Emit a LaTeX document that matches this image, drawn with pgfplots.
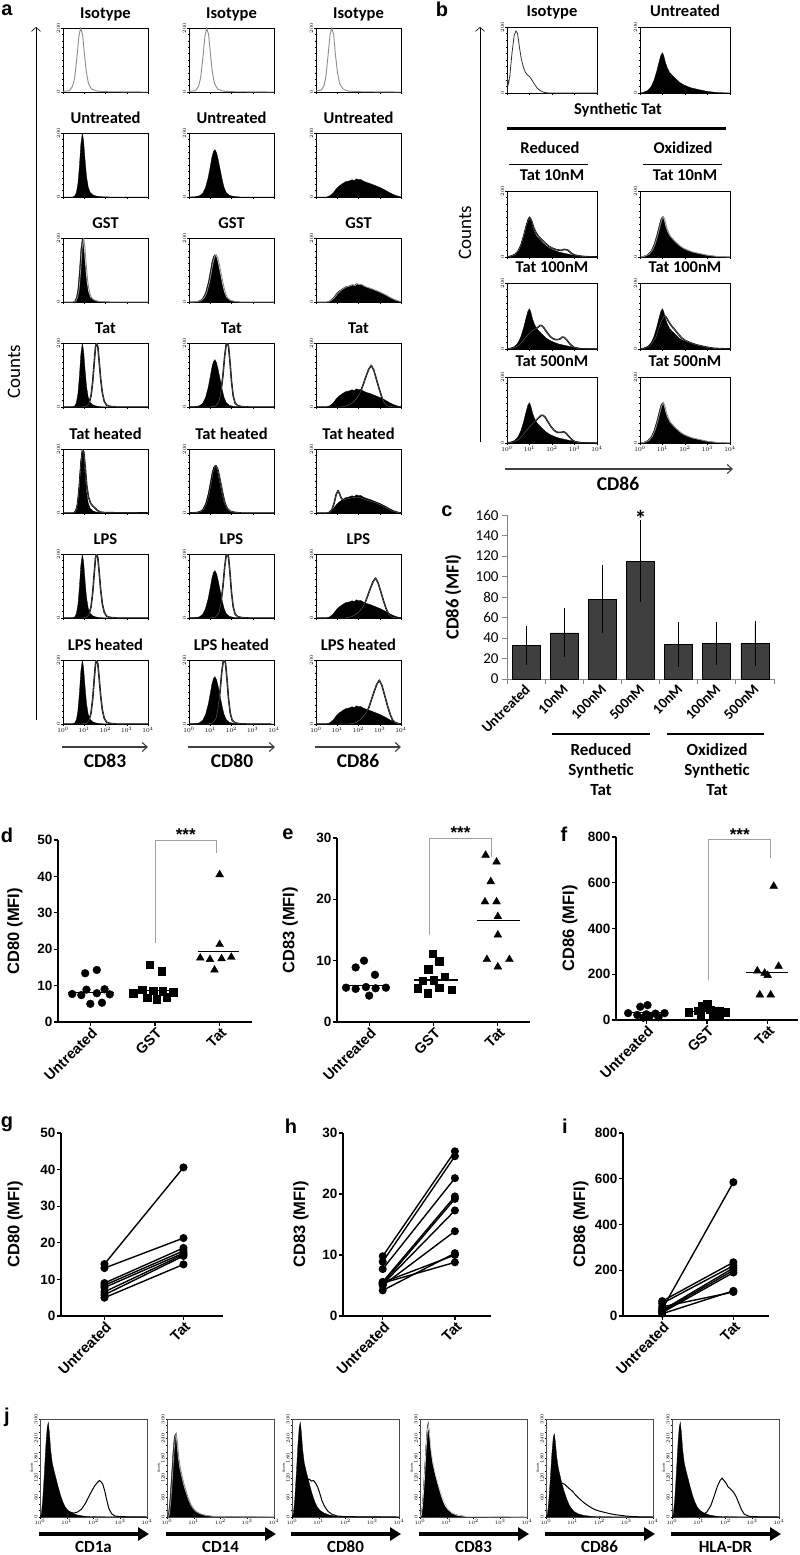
\documentclass[border=0pt]{standalone}
\usepackage{pgfplots}
\pgfplotsset{compat=1.18}
\usepackage{pgfplotstable}
\usepackage{fontspec}
\setmainfont{Carlito}
\newfontfamily\arial{Liberation Sans}
\usetikzlibrary{arrows.meta}
\newcommand\fs[1]{\fontsize{#1}{#1}\selectfont}
\definecolor{gry}{HTML}{8C8C8C}
\definecolor{barc}{HTML}{3F3F3F}
\definecolor{axg}{HTML}{868686}
\definecolor{brk}{HTML}{A0A0A0}

% ---------- panel a histograms (x in decades, counts 0-200)
\pgfplotstableread{
x y
0 2
0.3 4
0.45 18
0.55 45
0.65 105
0.75 175
0.83 200
0.92 180
1.0 125
1.1 62
1.2 26
1.35 9
1.6 3
2.0 1
4 0
}\aIsoA
\pgfplotstableread{
x y
0 3
0.25 6
0.38 20
0.47 50
0.56 110
0.66 178
0.74 200
0.83 180
0.91 120
1.01 60
1.12 25
1.28 9
1.5 3
2.0 1
4 0
}\aIsoC
\pgfplotstableread{
x y
0 0
0.45 0
0.55 3
0.63 14
0.7 40
0.77 95
0.84 165
0.91 200
0.97 175
1.04 115
1.11 62
1.19 30
1.28 14
1.4 7
1.55 3
1.8 1
2.2 0
4 0
}\aFillA
\pgfplotstableread{
x y
0 0
0.9 0
1.1 2
1.22 10
1.32 35
1.4 80
1.47 140
1.53 188
1.58 200
1.64 188
1.7 145
1.77 90
1.85 45
1.94 18
2.05 6
2.2 2
2.5 0
4 0
}\aTatA
\pgfplotstableread{
x y
0 0
0.5 0
0.6 5
0.68 25
0.76 75
0.84 150
0.92 200
0.98 190
1.05 140
1.12 85
1.2 50
1.3 30
1.4 22
1.5 16
1.62 8
1.75 3
2.0 1
4 0
}\aHeatA
\pgfplotstableread{
x y
0 0
0.3 1
0.5 4
0.65 12
0.78 30
0.9 60
1.0 95
1.08 125
1.15 142
1.22 148
1.3 138
1.38 115
1.47 85
1.56 55
1.65 30
1.75 14
1.9 5
2.1 2
2.4 0
4 0
}\aFillB
\pgfplotstableread{
x y
0 0
1.0 0
1.25 3
1.4 15
1.5 45
1.6 100
1.68 160
1.75 195
1.8 200
1.86 190
1.93 140
2.0 80
2.08 35
2.17 12
2.3 4
2.5 1
2.8 0
4 0
}\aTatB
\pgfplotstableread{
x y
0 0
0.5 0
0.65 4
0.8 12
0.95 25
1.1 35
1.25 42
1.4 48
1.55 50
1.7 54
1.8 51
1.9 57
2.0 54
2.1 55
2.25 49
2.4 45
2.55 42
2.7 38
2.85 34
3.0 30
3.15 25
3.3 20
3.45 14
3.6 9
3.75 5
3.9 2
4 0
}\aFillC
\pgfplotstableread{
x y
0 0
1.2 0
1.5 5
1.75 15
1.95 30
2.1 48
2.22 70
2.35 95
2.48 118
2.6 130
2.72 115
2.85 85
2.98 55
3.1 30
3.22 12
3.35 4
3.5 1
3.7 0
4 0
}\aTatC
\pgfplotstableread{
x y
0 0
1.4 0
1.7 5
1.95 15
2.15 29
2.3 46
2.42 67
2.55 91
2.68 113
2.8 125
2.92 110
3.05 82
3.18 53
3.3 29
3.42 12
3.55 4
3.7 1
3.85 0
4 0
}\aLpsC
\pgfplotstableread{
x y
0 0
1.6 0
1.9 5
2.13 16
2.33 32
2.48 50
2.6 74
2.73 100
2.86 124
2.98 137
3.1 121
3.23 90
3.36 58
3.48 32
3.6 13
3.73 4
3.88 1
4 0
}\aLpshC
\pgfplotstableread{
x y
0 0
0.6 0
0.75 10
0.85 30
0.95 58
1.04 70
1.12 58
1.2 45
1.3 40
1.45 44
1.6 46
1.75 48
1.9 50
2.05 48
2.2 45
2.4 40
2.6 36
2.8 32
3.0 27
3.2 20
3.4 13
3.6 6
3.8 2
4 0
}\aHeatC
% ---------- panel b histograms
\pgfplotstableread{
x y
0 0
0.02 42
0.07 28
0.13 55
0.22 120
0.32 175
0.4 188
0.47 180
0.55 140
0.63 105
0.72 80
0.82 62
0.92 54
1.0 50
1.1 40
1.22 27
1.35 14
1.5 6
1.65 2
1.85 0
4 0
}\bIso
\pgfplotstableread{
x y
0 0
0.15 2
0.35 8
0.5 20
0.62 38
0.74 65
0.85 95
0.93 115
1.0 122
1.06 112
1.13 92
1.22 75
1.32 62
1.45 52
1.6 42
1.75 33
1.9 26
2.1 20
2.3 15
2.5 12
2.7 9
2.9 6
3.1 4
3.35 2
3.6 1
4 0
}\bFill
\pgfplotstableread{
x y
0 0
0.15 2
0.35 7
0.5 18
0.62 35
0.74 62
0.85 92
0.95 112
1.03 118
1.1 108
1.18 90
1.28 75
1.4 62
1.55 52
1.7 42
1.85 33
2.0 27
2.2 22
2.4 20
2.55 23
2.7 21
2.85 12
3.0 6
3.2 3
3.5 1
4 0
}\bRten
\pgfplotstableread{
x y
0 0
0.3 3
0.55 12
0.75 28
0.95 45
1.1 55
1.25 60
1.38 66
1.48 72
1.56 70
1.65 63
1.78 50
1.92 38
2.05 31
2.2 28
2.35 30
2.45 36
2.55 35
2.65 28
2.8 15
2.95 6
3.1 2
3.3 0
4 0
}\bRhun
\pgfplotstableread{
x y
0 0
0.3 3
0.55 12
0.75 28
0.95 45
1.1 56
1.25 66
1.4 76
1.52 84
1.6 84
1.7 78
1.82 64
1.95 50
2.1 38
2.25 32
2.4 32
2.52 34
2.62 30
2.75 20
2.9 9
3.05 3
3.25 1
3.4 0
4 0
}\bRfive
\pgfplotstableread{
x y
0 0
0.2 2
0.4 8
0.55 18
0.7 35
0.82 60
0.95 85
1.05 98
1.12 100
1.2 92
1.3 80
1.42 68
1.55 58
1.7 45
1.85 34
2.0 26
2.2 20
2.4 15
2.6 11
2.8 8
3.0 5
3.3 2
3.6 1
4 0
}\bOhun
% ---------- panel j histograms (counts 0-300)
\pgfplotstableread{
x y
0 0
0.05 8
0.1 50
0.16 130
0.22 220
0.27 275
0.31 290
0.35 260
0.4 205
0.46 165
0.53 140
0.6 118
0.68 92
0.77 66
0.86 45
0.95 30
1.05 20
1.2 12
1.4 6
1.7 2
2.1 1
4 0
}\jFill
\pgfplotstableread{
x y
0 0
0.05 7
0.1 45
0.16 115
0.22 195
0.27 243
0.31 255
0.35 230
0.4 185
0.46 150
0.53 125
0.6 100
0.68 78
0.77 56
0.86 38
0.95 26
1.05 17
1.2 10
1.4 5
1.7 2
2.1 1
4 0
}\jFillB
\pgfplotstableread{
x y
0 0
0.3 2
0.6 6
0.8 10
0.95 14
1.1 16
1.25 12
1.4 15
1.55 24
1.7 42
1.82 62
1.95 82
2.05 96
2.15 106
2.22 112
2.28 108
2.35 100
2.42 80
2.5 50
2.58 25
2.68 10
2.8 3
3.0 1
4 0
}\jCDa
\pgfplotstableread{
x y
0 0
0.15 8
0.28 40
0.38 80
0.47 105
0.56 114
0.64 116
0.72 110
0.8 112
0.88 104
0.96 92
1.04 72
1.12 50
1.22 32
1.35 17
1.5 8
1.7 3
2.0 1
4 0
}\jCDeighty
\pgfplotstableread{
x y
0 0
0.05 6
0.1 40
0.16 110
0.22 200
0.27 260
0.31 280
0.36 250
0.42 200
0.5 160
0.58 130
0.66 105
0.75 82
0.85 58
0.95 38
1.05 24
1.2 12
1.4 5
1.7 2
4 0
}\jCDeightythree
\pgfplotstableread{
x y
0 0
0.15 6
0.28 35
0.4 72
0.5 95
0.6 104
0.7 100
0.8 92
0.9 85
1.0 78
1.1 68
1.25 56
1.4 45
1.55 36
1.7 28
1.85 22
2.0 18
2.2 14
2.4 10
2.6 7
2.8 5
3.0 3
3.3 1
4 0
}\jCDeightysix
\pgfplotstableread{
x y
0 0
0.6 2
0.9 3
1.1 6
1.3 15
1.45 35
1.58 65
1.7 95
1.8 112
1.87 119
1.94 112
2.02 104
2.1 92
2.2 85
2.3 76
2.4 62
2.5 42
2.6 22
2.7 9
2.85 3
3.0 1
4 0
}\jHLA

\pgfplotsset{
 pos/.style 2 args={at={(#1pt,-#2pt)},anchor=north west},
 hist/.style={scale only axis, xmin=0, xmax=4, ymin=0, ymax=200,
   xtick={0,1,2,3,4}, xticklabels={}, ytick={0,200}, minor y tick num=9,
   tick align=outside, xtick pos=bottom, ytick pos=left,
   major tick length=2pt, minor tick length=1.2pt,
   tick style={line width=0.35pt,black},
   yticklabel style={rotate=90, anchor=south, font=\fs{5}, inner sep=0.6pt},
   axis line style={line width=0.7pt},
   title style={font=\bfseries\fs{16.5}, at={(0.5,1)}, anchor=base, yshift=3.5pt, inner sep=0pt}},
 bot/.style={xticklabels={$10^0$,$10^1$,$10^2$,$10^3$,$10^4$}, xticklabel style={font=\fs{6.5}, inner sep=1pt}},
 fl/.style={fill=black, draw=black, line width=0.3pt},
 ov/.style={draw=black, line width=1.5pt, line join=round, postaction={draw=black!55, line width=0.35pt}},
 gl/.style={draw=gry, line width=0.9pt},
 jh/.style={scale only axis, width=107pt, height=98pt, xmin=0, xmax=4, ymin=0, ymax=300,
   xtick={0,1,2,3,4}, xticklabels={$10^0$,$10^1$,$10^2$,$10^3$,$10^4$},
   ytick={0,60,...,300}, minor y tick num=2, tick align=outside, xtick pos=bottom, ytick pos=left,
   major tick length=1.5pt, minor tick length=1pt, tick style={line width=0.3pt,black},
   ticklabel style={font=\fs{3.5}, inner sep=0.8pt}, yticklabel style={rotate=90, anchor=south},
   axis line style={line width=0.5pt, draw=black!70},
   ylabel={Counts}, ylabel style={font=\fs{3.5}, yshift=-3pt}},
 prism/.style={scale only axis, axis lines*=left, axis line style={-, line width=1.5pt},
   tick align=outside, major tick length=4pt, tick style={line width=1.3pt, black},
   yticklabel style={font=\arial\bfseries\fs{13.5}, inner sep=1.5pt},
   /pgf/number format/assume math mode=true,
   xticklabel style={rotate=45, anchor=east, font=\arial\bfseries\fs{14.5}, inner sep=1pt, yshift=-6pt, xshift=1pt},
   clip=false},
 ylab/.style={every axis y label/.style={at={(axis description cs:#1,0.5)}, rotate=90, anchor=center, font=\arial\bfseries\fs{16.5}}},
 dot/.style={only marks, mark=*, mark size=3.9pt, black, mark options={fill=black}},
 sq/.style={only marks, mark=square*, mark size=3.7pt, black, mark options={fill=black}},
 tri/.style={only marks, mark=triangle*, mark size=4.5pt, black, mark options={fill=black}},
 med/.style={black, line width=1.2pt},
 pair/.style={black, line width=1.4pt, mark=*, mark size=3.3pt, mark options={fill=black}},
}
\newcommand\HA[5]{\begin{axis}[hist, pos={#1}{#2}, width=85pt, height=64pt, title={#3}, #4]#5\end{axis}}
\newcommand\HB[5]{\begin{axis}[hist, pos={#1}{#2}, width=90pt, height=66pt, title={#3}, title style={yshift=0.8pt}, #4]#5\end{axis}}
\newcommand\HJ[2]{\begin{axis}[jh, pos={#1}{1419}]#2\end{axis}}

\begin{document}
\begin{tikzpicture}
% ================= panel a
\node[font=\arial\bfseries\fs{20}] at (7pt,-10pt) {a};
\draw[-{Straight Barb[length=4pt,width=9pt]}, line width=0.6pt] (36pt,-720pt) -- (36pt,-27pt);
\node[rotate=90, font=\fs{19}] at (14pt,-372pt) {Counts};
% column 1 (CD83)
\HA{63}{28}{Isotype}{}{\addplot[gl] table{\aIsoA};}
\HA{63}{133}{Untreated}{}{\addplot[fl] table{\aFillA};}
\HA{63}{238}{GST}{}{\addplot[fl] table{\aFillA}; \addplot[gl,xshift=1.2pt] table{\aFillA};}
\HA{63}{343}{Tat}{}{\addplot[fl] table{\aFillA}; \addplot[ov] table{\aTatA};}
\HA{63}{449}{Tat heated}{}{\addplot[fl] table{\aFillA}; \addplot[ov] table{\aHeatA};}
\HA{63}{554}{LPS}{}{\addplot[fl] table{\aFillA}; \addplot[ov] table{\aTatA};}
\HA{63}{660}{LPS heated}{bot}{\addplot[fl] table{\aFillA}; \addplot[ov] table{\aTatA};}
% column 2 (CD80)
\HA{189}{28}{Isotype}{}{\addplot[gl] table{\aIsoA};}
\HA{189}{133}{Untreated}{}{\addplot[fl] table{\aFillB};}
\HA{189}{238}{GST}{}{\addplot[fl] table{\aFillB}; \addplot[gl,xshift=1.2pt] table{\aFillB};}
\HA{189}{343}{Tat}{}{\addplot[fl] table{\aFillB}; \addplot[ov] table{\aTatB};}
\HA{189}{449}{Tat heated}{}{\addplot[fl] table{\aFillB}; \addplot[ov,xshift=1pt] table{\aFillB};}
\HA{189}{554}{LPS}{}{\addplot[fl] table{\aFillB}; \addplot[ov] table{\aTatB};}
\HA{189}{660}{LPS heated}{bot}{\addplot[fl] table{\aFillB}; \addplot[ov,xshift=-3pt] table{\aTatB};}
% column 3 (CD86)
\HA{316}{28}{Isotype}{}{\addplot[gl] table{\aIsoC};}
\HA{316}{133}{Untreated}{}{\addplot[fl] table{\aFillC};}
\HA{316}{238}{GST}{}{\addplot[fl] table{\aFillC}; \addplot[gl,xshift=1pt] table{\aFillC};}
\HA{316}{343}{Tat}{}{\addplot[fl] table{\aFillC}; \addplot[ov] table{\aTatC};}
\HA{316}{449}{Tat heated}{}{\addplot[fl] table{\aFillC}; \addplot[ov] table{\aHeatC};}
\HA{316}{554}{LPS}{}{\addplot[fl] table{\aFillC}; \addplot[ov] table{\aLpsC};}
\HA{316}{660}{LPS heated}{bot}{\addplot[fl] table{\aFillC}; \addplot[ov] table{\aLpshC};}
\foreach \xa/\xb/\xc/\lab in {62/148/105/CD83,188/275/232/CD80,315/401/358/CD86}{
  \draw[-{Straight Barb[length=5pt,width=9pt]}, line width=1.1pt, black!75] (\xa pt,-747pt) -- (\xb pt,-747pt);
  \node[font=\bfseries\fs{19.5}] at (\xc pt,-761pt) {\lab};
}
% ================= panel b
\node[font=\arial\bfseries\fs{20}] at (442pt,-9pt) {b};
\draw[-{Straight Barb[length=4pt,width=9pt]}, line width=0.6pt] (480pt,-442pt) -- (480pt,-27pt);
\node[rotate=90, font=\fs{19}] at (465pt,-233pt) {Counts};
\HB{507}{27}{Isotype}{}{\addplot[draw=black!80, line width=0.8pt] table{\bIso};}
\HB{640}{27}{Untreated}{}{\addplot[fl] table{\bFill};}
\HB{507}{191}{Tat 10nM}{}{\addplot[fl] table{\bFill}; \addplot[ov] table{\bRten};}
\HB{640}{191}{Tat 10nM}{}{\addplot[fl] table{\bFill}; \addplot[gl,xshift=1pt] table{\bFill};}
\HB{507}{283}{Tat 100nM}{}{\addplot[fl] table{\bFill}; \addplot[ov] table{\bRhun};}
\HB{640}{283}{Tat 100nM}{}{\addplot[fl] table{\bFill}; \addplot[ov] table{\bOhun};}
\HB{507}{377}{Tat 500nM}{bot}{\addplot[fl] table{\bFill}; \addplot[ov] table{\bRfive};}
\HB{640}{377}{Tat 500nM}{bot}{\addplot[fl] table{\bFill}; \addplot[gl,xshift=1pt] table{\bFill};}
\node[font=\bfseries\fs{16.5}] at (618pt,-110pt) {Synthetic Tat};
\draw[line width=3pt] (507pt,-128pt) -- (726pt,-128pt);
\node[font=\bfseries\fs{16.5}] at (550pt,-148pt) {Reduced};
\node[font=\bfseries\fs{16.5}] at (683pt,-148pt) {Oxidized};
\draw[line width=0.8pt] (509pt,-164pt) -- (588pt,-164pt);
\draw[line width=0.8pt] (643pt,-164pt) -- (722pt,-164pt);
\draw[-{Straight Barb[length=5pt,width=9pt]}, line width=1.1pt, black!75] (505pt,-469pt) -- (733pt,-469pt);
\node[font=\bfseries\fs{19.5}] at (618pt,-484pt) {CD86};
% ================= panel c
\node[font=\arial\bfseries\fs{20}] at (447pt,-511pt) {c};
\begin{axis}[scale only axis, pos={507}{515}, width=267pt, height=164pt, ybar, bar width=28pt,
  xmin=0.5, xmax=7.5, ymin=0, ymax=160, enlargelimits=false, ytick={0,20,...,160},
  axis lines*=left, axis line style={-, draw=axg, line width=0.8pt},
  tick align=outside, major tick length=5pt, ytick style={draw=axg, line width=0.8pt},
  xtick={1,...,7}, xticklabels={Untreated,10nM,100nM,500nM,10nM,100nM,500nM},
  xtick style={draw=none},
  extra x ticks={0.5,1.5,...,7.5}, extra x tick labels={},
  extra x tick style={xtick style={draw=axg, line width=0.8pt}},
  /pgf/number format/assume math mode=true,
  yticklabel style={font=\fs{15}},
  xticklabel style={rotate=45, anchor=east, font=\bfseries\fs{14.5}, inner sep=1pt, yshift=-3pt},
  ylabel={CD86 (MFI)},
  every axis y label/.style={at={(axis description cs:-0.202,0.5)}, rotate=90, anchor=center, font=\bfseries\fs{18.5}},
  clip=false]
\addplot[fill=barc, draw=black, line width=0.6pt,
  error bars/.cd, y dir=both, y explicit, error bar style={line width=0.8pt, black},
  error mark options={mark size=4pt, line width=0.8pt, black}]
  coordinates {(1,33) +- (0,15) (2,45) +- (0,20) (3,78) +- (0,29) (4,115) +- (0,36)
               (5,34) +- (0,18) (6,35) +- (0,17) (7,35) +- (0,18)};
\node[anchor=north, inner sep=0pt, font=\bfseries\fs{24}] at (axis cs:4,165) {*};
\end{axis}
\draw[line width=2pt] (552pt,-734pt) -- (650pt,-734pt);
\draw[line width=2pt] (667pt,-734pt) -- (764pt,-734pt);
\node[font=\bfseries\fontsize{17}{20}\selectfont, align=center] at (601pt,-770pt) {Reduced\\Synthetic\\Tat};
\node[font=\bfseries\fontsize{17}{20}\selectfont, align=center] at (717pt,-770pt) {Oxidized\\Synthetic\\Tat};
% ================= panel d
\node[font=\arial\bfseries\fs{20}] at (7pt,-835pt) {d};
\begin{axis}[prism, ylab=-0.222, pos={58}{840}, width=194pt, height=182pt,
  xmin=-0.5, xmax=2.5, ymin=0, ymax=50, ytick={0,10,...,50},
  xtick={0,1,2}, xticklabels={Untreated,GST,Tat}, ylabel={CD80 (MFI)}]
\addplot[dot] coordinates {(-0.08,13.4) (0.1,14.3) (-0.28,7.7) (-0.14,7.4) (-0.06,8.9) (0.1,7.9) (0.22,9.0) (0.3,7.6) (0.0,5.0) (0.18,5.3)};
\addplot[sq] coordinates {(0.92,15.8) (1.1,14.0) (0.66,7.9) (0.8,8.8) (0.97,8.6) (1.12,8.5) (1.28,8.2) (0.88,6.6) (1.03,6.3) (1.18,6.8)};
\addplot[tri] coordinates {(2,40.5) (2,21.3) (1.7,17.6) (1.85,17.2) (2.03,17.4) (2.18,17.8) (1.92,14.3)};
\addplot[med] coordinates {(-0.34,8.0) (0.36,8.0)};
\addplot[med] coordinates {(0.65,8.6) (1.35,8.6)};
\addplot[med] coordinates {(1.66,19.3) (2.3,19.3)};
\draw[brk, line width=0.9pt] (axis cs:1,21.7) -- (axis cs:1,50) -- (axis cs:1.95,50) -- (axis cs:1.95,46.4);
\node[anchor=north, inner sep=0pt, yshift=11pt, font=\arial\bfseries\fs{17}] at (axis cs:1.475,50) {***};
\end{axis}
% ================= panel e
\node[font=\arial\bfseries\fs{20}] at (288pt,-834pt) {e};
\begin{axis}[prism, ylab=-0.243, pos={337}{838}, width=193pt, height=184pt,
  xmin=-0.5, xmax=2.5, ymin=0, ymax=30, ytick={0,10,20,30},
  xtick={0,1,2}, xticklabels={Untreated,GST,Tat}, ylabel={CD83 (MFI)}]
\addplot[dot] coordinates {(-0.08,10.0) (-0.21,8.9) (0.09,7.7) (-0.36,5.6) (-0.21,5.4) (-0.05,5.7) (0.1,5.5) (0.26,5.6) (0,4.3)};
\addplot[sq] coordinates {(0.99,11.1) (1.09,9.9) (0.92,8.6) (1.17,7.4) (0.83,6.7) (1.0,6.8) (0.75,5.5) (1.09,5.6) (1.28,5.3) (0.91,4.7)};
\addplot[tri] coordinates {(1.81,27.2) (1.98,26.1) (1.89,22.9) (1.8,19.6) (1.98,19.6) (2.0,17.2) (2.0,14.2) (1.83,10.2) (2.18,10.2) (2.0,9.0)};
\addplot[med] coordinates {(-0.36,6.0) (0.31,6.0)};
\addplot[med] coordinates {(0.7,6.85) (1.38,6.85)};
\addplot[med] coordinates {(1.67,16.6) (2.34,16.6)};
\draw[brk, line width=0.9pt] (axis cs:0.94,14.2) -- (axis cs:0.94,30) -- (axis cs:1.9,30) -- (axis cs:1.9,26.9);
\node[anchor=north, inner sep=0pt, yshift=11pt, font=\arial\bfseries\fs{17}] at (axis cs:1.42,30) {***};
\end{axis}
% ================= panel f
\node[font=\arial\bfseries\fs{20}] at (564pt,-834pt) {f};
\begin{axis}[prism, ylab=-0.253, pos={616}{837}, width=182pt, height=183pt,
  xmin=-0.5, xmax=2.5, ymin=0, ymax=800, ytick={0,200,...,800},
  xtick={0,1,2}, xticklabels={Untreated,GST,Tat}, ylabel={CD86 (MFI)}]
\addplot[dot] coordinates {(-0.1,58) (0.02,65) (-0.3,30) (-0.15,22) (0.0,25) (0.15,28) (0.3,30) (0.05,15) (0.2,12) (-0.05,10)};
\addplot[sq] coordinates {(0.92,60) (1.0,70) (0.7,35) (0.85,40) (1.05,45) (1.2,40) (1.3,35) (0.9,20) (1.1,15) (1.2,25)};
\addplot[tri] coordinates {(2.1,585) (1.83,215) (1.95,205) (2.0,195) (2.18,235) (1.87,110) (2.05,110)};
\addplot[med] coordinates {(-0.35,32) (0.33,32)};
\addplot[med] coordinates {(0.68,37) (1.35,37)};
\addplot[med] coordinates {(1.65,207) (2.33,207)};
\draw[brk, line width=0.9pt] (axis cs:1.03,174) -- (axis cs:1.03,790) -- (axis cs:2.05,790) -- (axis cs:2.05,709);
\node[anchor=north, inner sep=0pt, yshift=11pt, font=\arial\bfseries\fs{17}] at (axis cs:1.54,790) {***};
\end{axis}
% ================= panel g
\node[font=\arial\bfseries\fs{20}] at (7pt,-1124pt) {g};
\begin{axis}[prism, ylab=-0.284, pos={61}{1133}, width=162pt, height=183pt,
  xmin=-0.55, xmax=1.5, ymin=0, ymax=50, ytick={0,10,...,50},
  xtick={0,1}, xticklabels={Untreated,Tat}, ylabel={CD80 (MFI)}]
\addplot[pair] coordinates {(0,14.2) (1,40.6)};
\addplot[pair] coordinates {(0,13.1) (1,21.3)};
\addplot[pair] coordinates {(0,9.0) (1,18.6)};
\addplot[pair] coordinates {(0,8.4) (1,17.8)};
\addplot[pair] coordinates {(0,7.8) (1,17.2)};
\addplot[pair] coordinates {(0,6.6) (1,16.8)};
\addplot[pair] coordinates {(0,5.8) (1,16.4)};
\addplot[pair] coordinates {(0,5.0) (1,14.1)};
\end{axis}
% ================= panel h
\node[font=\arial\bfseries\fs{20}] at (291pt,-1126pt) {h};
\begin{axis}[prism, ylab=-0.284, pos={343}{1133}, width=148pt, height=183pt,
  xmin=-0.55, xmax=1.5, ymin=0, ymax=30, ytick={0,10,20,30},
  xtick={0,1}, xticklabels={Untreated,Tat}, ylabel={CD83 (MFI)}]
\addplot[pair] coordinates {(0,9.8) (1,27.0)};
\addplot[pair] coordinates {(0,8.9) (1,26.2)};
\addplot[pair] coordinates {(0,7.7) (1,22.6)};
\addplot[pair] coordinates {(0,5.6) (1,19.6)};
\addplot[pair] coordinates {(0,5.3) (1,19.2)};
\addplot[pair] coordinates {(0,5.2) (1,17.3)};
\addplot[pair] coordinates {(0,5.0) (1,13.9)};
\addplot[pair] coordinates {(0,4.2) (1,10.3)};
\addplot[pair] coordinates {(0,5.5) (1,10.0)};
\addplot[pair] coordinates {(0,5.4) (1,8.8)};
\end{axis}
% ================= panel i
\node[font=\arial\bfseries\fs{20}] at (565pt,-1126pt) {i};
\begin{axis}[prism, ylab=-0.288, pos={623}{1133}, width=146pt, height=183pt,
  xmin=-0.55, xmax=1.5, ymin=0, ymax=800, ytick={0,200,...,800},
  xtick={0,1}, xticklabels={Untreated,Tat}, ylabel={CD86 (MFI)}]
\addplot[pair] coordinates {(0,30) (1,585)};
\addplot[pair] coordinates {(0,65) (1,235)};
\addplot[pair] coordinates {(0,55) (1,220)};
\addplot[pair] coordinates {(0,25) (1,210)};
\addplot[pair] coordinates {(0,20) (1,200)};
\addplot[pair] coordinates {(0,15) (1,190)};
\addplot[pair] coordinates {(0,10) (1,110)};
\addplot[pair] coordinates {(0,40) (1,105)};
\end{axis}
% ================= panel j
\node[font=\arial\bfseries\fs{20}] at (7pt,-1417pt) {j};
\HJ{40}{\addplot[fl] table{\jFill}; \addplot[draw=black, line width=1pt] table{\jCDa};}
\HJ{167}{\addplot[fl] table{\jFillB}; \addplot[gl, xshift=1pt] table{\jFillB};}
\HJ{292}{\addplot[fl] table{\jFill}; \addplot[draw=black, line width=1pt] table{\jCDeighty};}
\HJ{420}{\addplot[fl] table{\jFill}; \addplot[draw=gry!40, line width=0.8pt] table{\jCDeightythree};}
\HJ{546}{\addplot[fl] table{\jFillB}; \addplot[draw=black, line width=1pt] table{\jCDeightysix};}
\HJ{672}{\addplot[fl] table{\jFill}; \addplot[draw=black, line width=1pt] table{\jHLA};}
\foreach \xa/\lab in {40/CD1a,167/CD14,292/CD80,420/CD83,546/CD86,672/HLA-DR}{
  \draw[line width=4pt, -{Triangle[length=11pt,width=13pt]}] (\xa pt - 1pt,-1534pt) -- (\xa pt + 109pt,-1534pt);
  \node[font=\bfseries\fs{17}] at (\xa pt + 53.5pt,-1546.5pt) {\lab};
}
\pgfresetboundingbox
\path[use as bounding box] (0,0) rectangle (800pt,-1555pt);
\end{tikzpicture}
\end{document}
